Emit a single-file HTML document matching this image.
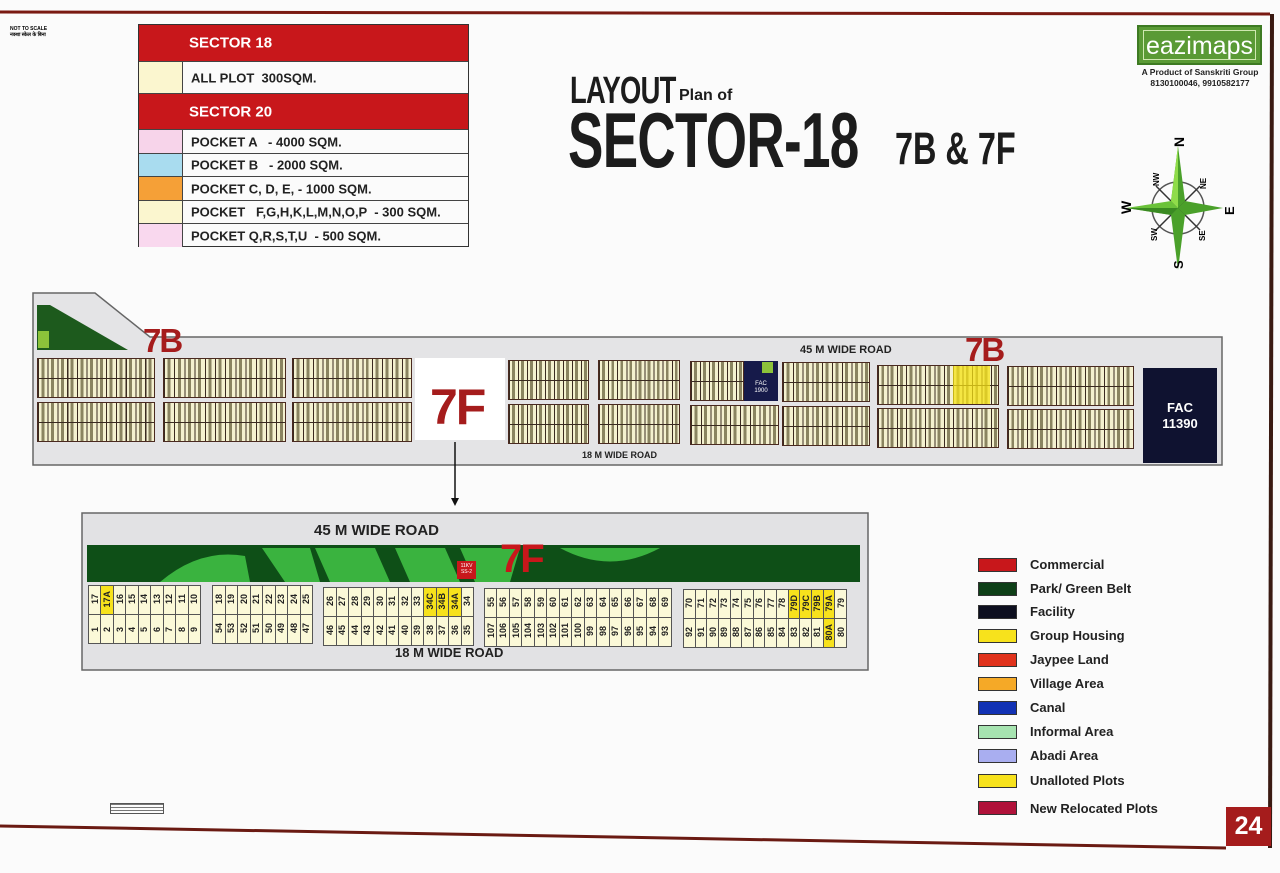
<!DOCTYPE html>
<html><head><meta charset="utf-8">
<style>
*{margin:0;padding:0;box-sizing:border-box}
body{width:1280px;height:873px;position:relative;overflow:hidden;background:#fbfbfb;font-family:"Liberation Sans",sans-serif}
.a{position:absolute}
.lg{position:absolute;left:138px;width:331px;border:1px solid #333}
.lg div{position:absolute;left:0;width:329px;border-bottom:1px solid #444;font-weight:bold;font-size:13px;color:#222}
.lg .r{background:#c8171b;color:#fff;font-size:15px;text-decoration:underline}
.lg span{position:absolute;left:0;top:0;bottom:0;width:44px;border-right:1px solid #444}
.lg b{position:absolute;left:52px;top:50%;transform:translateY(-50%);white-space:nowrap}
.tb{position:absolute;height:40px;border:1px solid #4a2a20;background-color:#f4f1cf;
background-image:repeating-linear-gradient(90deg,#3a2a20 0 1px,transparent 1px var(--w)),linear-gradient(#3a2a20,#3a2a20),repeating-linear-gradient(90deg,transparent 0 calc(var(--w)*0.35),#8a8460 calc(var(--w)*0.35) calc(var(--w)*0.65),transparent calc(var(--w)*0.65) var(--w));
background-size:auto,100% 1px,auto;background-position:0 0,0 19px,0 0;background-repeat:repeat,no-repeat,repeat}
table.bt{position:absolute;border-collapse:collapse;background:#fbf9d8;table-layout:fixed}
table.bt td{border:1px solid #555;height:29px;font-size:9px;font-weight:bold;color:#222;text-align:center;vertical-align:middle;padding:0;overflow:hidden}
table.bt td span{display:inline-block;writing-mode:vertical-rl;transform:rotate(180deg);white-space:nowrap;line-height:10px}
table.bt td.y{background:#f7e21c}
.leg{position:absolute;left:978px;width:39px;height:14px;border:1px solid #333}
.lt{position:absolute;left:1030px;font-weight:bold;font-size:13px;color:#222}
</style></head><body>
<svg class="a" style="left:0;top:0" width="1280" height="873">
<line x1="0" y1="12" x2="1270" y2="14" stroke="#7a1a12" stroke-width="3"/>
<line x1="1272" y1="14" x2="1270" y2="848" stroke="#3a1a12" stroke-width="4"/>
<line x1="0" y1="826" x2="1226" y2="848" stroke="#6a1a12" stroke-width="3"/>
<polygon points="33,293 95,293 150,337 1222,337 1222,465 33,465" fill="#e4e4e6" stroke="#666" stroke-width="1.5"/>
<polygon points="37,305 50,305 128,350 37,350" fill="#1d5a1d"/>
<rect x="38" y="331" width="11" height="17" fill="#8cc23a"/>
<rect x="415" y="358" width="90" height="82" fill="#fff"/>
<line x1="455" y1="442" x2="455" y2="500" stroke="#111" stroke-width="1.5"/>
<polygon points="451,498 459,498 455,506" fill="#111"/>
<rect x="82" y="513" width="786" height="157" fill="#e2e2e4" stroke="#666" stroke-width="1.5"/>
<rect x="87" y="545" width="773" height="37" fill="#0e4f17"/>
<path d="M160,582 Q200,548 245,556 L250,582Z M262,548 L310,548 L320,582 L285,582Z M315,548 L375,548 L390,582 L330,582Z M395,548 L445,548 L460,582 L410,582Z M460,548 L520,548 L510,582 L475,582Z M560,548 Q610,575 660,548 Z" fill="#3ab33f"/>
<rect x="457" y="561" width="19" height="18" fill="#c8171b"/>
<g transform="translate(1178,208)">
<circle r="26" fill="none" stroke="#555" stroke-width="1.5"/>
<line x1="-22" y1="-22" x2="22" y2="22" stroke="#333" stroke-width="1.5"/>
<line x1="22" y1="-22" x2="-22" y2="22" stroke="#333" stroke-width="1.5"/>
<polygon points="0,-62 7,-7 0,0 -7,-7" fill="#4aa02a"/><polygon points="0,62 7,7 0,0 -7,7" fill="#4aa02a"/>
<polygon points="-52,0 -7,-7 0,0 -7,7" fill="#6bc23a"/><polygon points="45,0 7,-7 0,0 7,7" fill="#4aa02a"/>
<polygon points="0,-62 0,0 -7,-7" fill="#8fdc4a"/><polygon points="-52,0 0,0 -7,7" fill="#3a8a22"/>
</g>
<text x="1171" y="146" font-size="14" font-weight="bold" font-family="Liberation Sans" transform="rotate(-90 1178 140)">N</text>
<text x="1172" y="270" font-size="13" font-weight="bold" font-family="Liberation Sans" transform="rotate(-90 1177 264)">S</text>
<text x="1120" y="213" font-size="14" font-weight="bold" font-family="Liberation Sans" transform="rotate(-90 1126 208)">W</text>
<text x="1224" y="215" font-size="13" font-weight="bold" font-family="Liberation Sans" transform="rotate(-90 1229 210)">E</text>
<text x="1150" y="183" font-size="8" font-weight="bold" font-family="Liberation Sans" transform="rotate(-90 1156 180)">NW</text>
<text x="1197" y="186" font-size="8" font-weight="bold" font-family="Liberation Sans" transform="rotate(-90 1203 183)">NE</text>
<text x="1148" y="238" font-size="8" font-weight="bold" font-family="Liberation Sans" transform="rotate(-90 1154 235)">SW</text>
<text x="1196" y="238" font-size="8" font-weight="bold" font-family="Liberation Sans" transform="rotate(-90 1202 235)">SE</text>
</svg>

<div class="a" style="left:10px;top:26px;font-size:5px;font-weight:bold;line-height:6px">NOT TO SCALE<br>नक्शा स्केल के बिना</div>
<div class="a" style="left:110px;top:803px;width:54px;height:11px;border:1px solid #555;background:repeating-linear-gradient(#777 0 1px,transparent 1px 3px)"></div>

<div class="lg" style="top:24px;height:223px">
<div class="r" style="top:0;height:37px"><b style="left:50px">SECTOR 18</b></div>
<div style="top:37px;height:32px"><span style="background:#fbf6cf"></span><b>ALL PLOT&nbsp; 300SQM.</b></div>
<div class="r" style="top:69px;height:36px"><b style="left:50px">SECTOR 20</b></div>
<div style="top:105px;height:24px"><span style="background:#f7d4ea"></span><b>POCKET A &nbsp; - 4000 SQM.</b></div>
<div style="top:129px;height:23px"><span style="background:#a9dcef"></span><b>POCKET B &nbsp; - 2000 SQM.</b></div>
<div style="top:152px;height:24px"><span style="background:#f5a037"></span><b>POCKET C, D, E, - 1000 SQM.</b></div>
<div style="top:176px;height:23px"><span style="background:#fbf6cf"></span><b>POCKET &nbsp; F,G,H,K,L,M,N,O,P &nbsp;- 300 SQM.</b></div>
<div style="top:199px;height:23px;border-bottom:none"><span style="background:#f9d8ee"></span><b>POCKET Q,R,S,T,U &nbsp;- 500 SQM.</b></div>
</div>

<div class="a" style="left:570px;top:70px;font-size:38px;font-weight:bold;color:#1c1c1c;transform:scaleX(0.72);transform-origin:0 0;letter-spacing:-1px">LAYOUT</div>
<div class="a" style="left:679px;top:87px;font-size:16px;font-weight:bold;color:#1c1c1c">Plan of</div>
<div class="a" style="left:568px;top:95px;font-size:78px;font-weight:bold;color:#1c1c1c;transform:scaleX(0.68);transform-origin:0 0;letter-spacing:-1px">SECTOR-18</div>
<div class="a" style="left:895px;top:123px;font-size:45px;font-weight:bold;color:#1c1c1c;transform:scaleX(0.72);transform-origin:0 0">7B &amp; 7F</div>

<div class="a" style="left:1137px;top:25px;width:125px;height:40px;background:#5a9a35;border:2px solid #3d7a22"><div style="position:absolute;left:4px;top:3px;right:4px;bottom:3px;border:1px solid #cfe8b0;color:#fff;font-size:25px;line-height:30px;text-align:center">eazimaps</div></div>
<div class="a" style="left:1120px;top:67px;width:160px;text-align:center;font-size:8.5px;font-weight:bold;line-height:11px;color:#222">A Product of Sanskriti Group<br>8130100046, 9910582177</div>

<div class="tb" style="--w:9.75px;left:37px;top:358px;width:118px"></div>
<div class="tb" style="--w:9.75px;left:37px;top:402px;width:118px"></div>
<div class="tb" style="--w:10.2px;left:163px;top:358px;width:123px"></div>
<div class="tb" style="--w:10.2px;left:163px;top:402px;width:123px"></div>
<div class="tb" style="--w:9.9px;left:292px;top:358px;width:120px"></div>
<div class="tb" style="--w:9.9px;left:292px;top:402px;width:120px"></div>
<div class="tb" style="--w:9px;left:508px;top:360px;width:81px"></div>
<div class="tb" style="--w:9px;left:508px;top:404px;width:81px"></div>
<div class="tb" style="--w:9.1px;left:598px;top:360px;width:82px"></div>
<div class="tb" style="--w:9.1px;left:598px;top:404px;width:82px"></div>
<div class="tb" style="--w:9px;left:690px;top:361px;width:54px"></div>
<div class="a" style="left:744px;top:361px;width:34px;height:40px;background:#161a4a;color:#fff;font-size:6px;text-align:center;padding-top:20px;line-height:7px">FAC<br>1900</div>
<div class="a" style="left:762px;top:362px;width:11px;height:11px;background:#8cc23a"></div>
<div class="tb" style="--w:9.8px;left:690px;top:405px;width:89px"></div>
<div class="tb" style="--w:9.8px;left:782px;top:362px;width:88px"></div>
<div class="tb" style="--w:9.8px;left:782px;top:406px;width:88px"></div>
<div class="tb" style="--w:9.4px;left:877px;top:365px;width:122px"></div>
<div class="a" style="left:953px;top:366px;width:37px;height:38px;background:rgba(245,225,20,.75)"></div>
<div class="tb" style="--w:9.4px;left:877px;top:408px;width:122px"></div>
<div class="tb" style="--w:9.6px;left:1007px;top:366px;width:127px"></div>
<div class="tb" style="--w:9.6px;left:1007px;top:409px;width:127px"></div>
<div class="a" style="left:1143px;top:368px;width:74px;height:95px;background:#0f1230;color:#fff;font-weight:bold;font-size:13px;text-align:center;padding-top:32px;line-height:16px">FAC<br>11390</div>

<div class="a" style="left:800px;top:344px;font-size:11px;font-weight:bold;color:#222">45 M WIDE ROAD</div>
<div class="a" style="left:582px;top:450px;font-size:9px;font-weight:bold;color:#222">18 M WIDE ROAD</div>
<div class="a" style="left:143px;top:322px;font-size:33px;font-weight:bold;color:#a51c1c;letter-spacing:-2px">7B</div>
<div class="a" style="left:965px;top:331px;font-size:33px;font-weight:bold;color:#a51c1c;letter-spacing:-2px">7B</div>
<div class="a" style="left:430px;top:378px;font-size:50px;font-weight:bold;color:#a51c1c;letter-spacing:-2px">7F</div>

<div class="a" style="left:314px;top:522px;font-size:15px;font-weight:bold;color:#222">45 M WIDE ROAD</div>
<div class="a" style="left:395px;top:645px;font-size:13px;font-weight:bold;color:#222">18 M WIDE ROAD</div>
<div class="a" style="left:500px;top:537px;font-size:40px;font-weight:bold;color:#c8171b;letter-spacing:-2px;line-height:44px">7F</div>
<div class="a" style="left:457px;top:563px;font-size:5px;color:#fff;line-height:6px;width:19px;text-align:center">11KV<br>SS-2</div>

<table class="bt" style="left:88px;top:585px;width:113px"><tr><td><span>17</span></td><td class="y"><span>17A</span></td><td><span>16</span></td><td><span>15</span></td><td><span>14</span></td><td><span>13</span></td><td><span>12</span></td><td><span>11</span></td><td><span>10</span></td></tr><tr><td><span>1</span></td><td><span>2</span></td><td><span>3</span></td><td><span>4</span></td><td><span>5</span></td><td><span>6</span></td><td><span>7</span></td><td><span>8</span></td><td><span>9</span></td></tr></table>
<table class="bt" style="left:212px;top:585px;width:101px"><tr><td><span>18</span></td><td><span>19</span></td><td><span>20</span></td><td><span>21</span></td><td><span>22</span></td><td><span>23</span></td><td><span>24</span></td><td><span>25</span></td></tr><tr><td><span>54</span></td><td><span>53</span></td><td><span>52</span></td><td><span>51</span></td><td><span>50</span></td><td><span>49</span></td><td><span>48</span></td><td><span>47</span></td></tr></table>
<table class="bt" style="left:323px;top:587px;width:151px"><tr><td><span>26</span></td><td><span>27</span></td><td><span>28</span></td><td><span>29</span></td><td><span>30</span></td><td><span>31</span></td><td><span>32</span></td><td><span>33</span></td><td class="y"><span>34C</span></td><td class="y"><span>34B</span></td><td class="y"><span>34A</span></td><td><span>34</span></td></tr><tr><td><span>46</span></td><td><span>45</span></td><td><span>44</span></td><td><span>43</span></td><td><span>42</span></td><td><span>41</span></td><td><span>40</span></td><td><span>39</span></td><td><span>38</span></td><td><span>37</span></td><td><span>36</span></td><td><span>35</span></td></tr></table>
<table class="bt" style="left:484px;top:588px;width:188px"><tr><td><span>55</span></td><td><span>56</span></td><td><span>57</span></td><td><span>58</span></td><td><span>59</span></td><td><span>60</span></td><td><span>61</span></td><td><span>62</span></td><td><span>63</span></td><td><span>64</span></td><td><span>65</span></td><td><span>66</span></td><td><span>67</span></td><td><span>68</span></td><td><span>69</span></td></tr><tr><td><span>107</span></td><td><span>106</span></td><td><span>105</span></td><td><span>104</span></td><td><span>103</span></td><td><span>102</span></td><td><span>101</span></td><td><span>100</span></td><td><span>99</span></td><td><span>98</span></td><td><span>97</span></td><td><span>96</span></td><td><span>95</span></td><td><span>94</span></td><td><span>93</span></td></tr></table>
<table class="bt" style="left:683px;top:589px;width:164px"><tr><td><span>70</span></td><td><span>71</span></td><td><span>72</span></td><td><span>73</span></td><td><span>74</span></td><td><span>75</span></td><td><span>76</span></td><td><span>77</span></td><td><span>78</span></td><td class="y"><span>79D</span></td><td class="y"><span>79C</span></td><td class="y"><span>79B</span></td><td class="y"><span>79A</span></td><td><span>79</span></td></tr><tr><td><span>92</span></td><td><span>91</span></td><td><span>90</span></td><td><span>89</span></td><td><span>88</span></td><td><span>87</span></td><td><span>86</span></td><td><span>85</span></td><td><span>84</span></td><td><span>83</span></td><td><span>82</span></td><td><span>81</span></td><td class="y"><span>80A</span></td><td><span>80</span></td></tr></table>

<div class="leg" style="top:558px;background:#c8171b"></div><div class="lt" style="top:557px">Commercial</div>
<div class="leg" style="top:582px;background:#0e3f17"></div><div class="lt" style="top:581px">Park/ Green Belt</div>
<div class="leg" style="top:605px;background:#0d0f1f"></div><div class="lt" style="top:604px">Facility</div>
<div class="leg" style="top:629px;background:#f7e21c"></div><div class="lt" style="top:628px">Group Housing</div>
<div class="leg" style="top:653px;background:#e0321c"></div><div class="lt" style="top:652px">Jaypee Land</div>
<div class="leg" style="top:677px;background:#f5a927"></div><div class="lt" style="top:676px">Village Area</div>
<div class="leg" style="top:701px;background:#1232b4"></div><div class="lt" style="top:700px">Canal</div>
<div class="leg" style="top:725px;background:#a6e3b0"></div><div class="lt" style="top:724px">Informal Area</div>
<div class="leg" style="top:749px;background:#a9aef0"></div><div class="lt" style="top:748px">Abadi Area</div>
<div class="leg" style="top:774px;background:#f7e21c"></div><div class="lt" style="top:773px">Unalloted Plots</div>
<div class="leg" style="top:801px;background:#b0123a"></div><div class="lt" style="top:801px">New Relocated Plots</div>

<div class="a" style="left:1226px;top:807px;width:45px;height:39px;background:#a51c1c;color:#fff;font-weight:bold;font-size:25px;text-align:center;line-height:39px">24</div>
</body></html>
